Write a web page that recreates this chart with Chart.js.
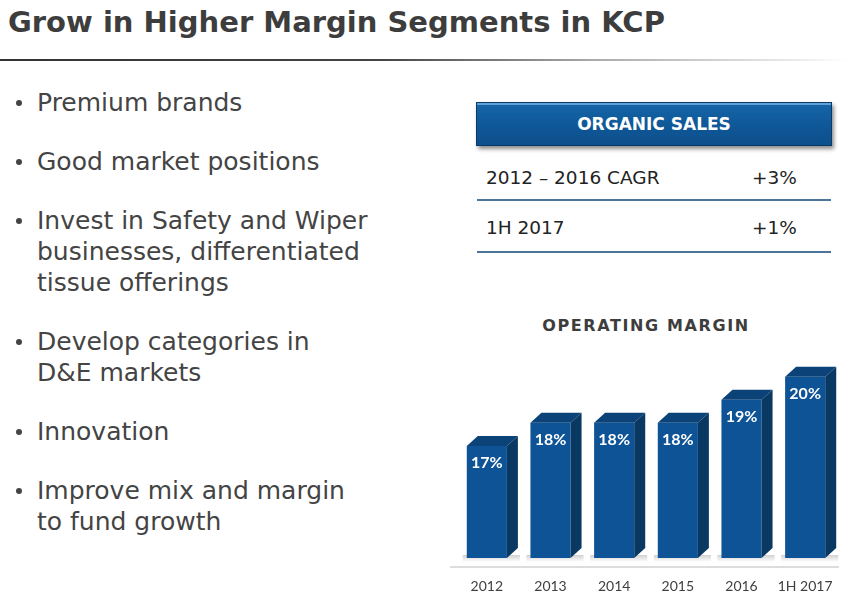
<!DOCTYPE html>
<html>
<head>
<meta charset="utf-8">
<script src="https://cdn.jsdelivr.net/npm/chart.js@4"></script>
<style>
  html, body { margin: 0; padding: 0; background: #fff; }
  body { width: 848px; height: 599px; position: relative; overflow: hidden; font-family: "DejaVu Sans", sans-serif; color: #404040; }
  #titulo { position: absolute; left: 8px; top: 8px; font-size: 29px; line-height: 29px; font-weight: bold; color: #3d3d3d; white-space: nowrap; }
  #linha { position: absolute; left: 0; top: 59px; width: 848px; height: 2px; background: linear-gradient(to right, #333 0%, #444 45%, #aaa 70%, #eee 95%, #fff 100%); }
  ul { position: absolute; left: 0; top: 87px; margin: 0; padding: 0 0 0 37px; width: 400px; list-style: none; font-size: 25px; line-height: 31px; color: #444; white-space: nowrap; }
  li { position: relative; margin-bottom: 28px; }
  li::before { content: ""; position: absolute; left: -21px; top: 13px; width: 6px; height: 6px; border-radius: 50%; background: #444; }
  #cabecalho { position: absolute; left: 476px; top: 102px; width: 354px; height: 42px; background: linear-gradient(#1466a8, #0f5696 60%, #0d4f8c); border: 1px solid #0a3a68; box-shadow: 2px 3px 4px rgba(0,0,0,0.45), inset 0 2px 0 #5fa0d8; color: #fff; font-weight: bold; font-size: 17px; text-align: center; line-height: 42px; }
  .linhaTab { position: absolute; left: 477px; width: 354px; height: 2px; background: #4c7599; }
  .celula { position: absolute; font-size: 18.5px; line-height: 20px; color: #222; }
  #tituloGrafico { position: absolute; left: 450px; width: 392px; top: 318px; text-align: center; font-weight: bold; font-size: 16px; line-height: 16px; letter-spacing: 1.6px; color: #3d3d3d; }
  #caixaGrafico { position: absolute; left: 450px; top: 340px; width: 398px; height: 259px; }
</style>
</head>
<body>
<div id="titulo">Grow in Higher Margin Segments in KCP</div>
<div id="linha"></div>

<ul>
  <li>Premium brands</li>
  <li>Good market positions</li>
  <li>Invest in Safety and Wiper<br>businesses, differentiated<br>tissue offerings</li>
  <li>Develop categories in<br>D&amp;E markets</li>
  <li>Innovation</li>
  <li>Improve mix and margin<br>to fund growth</li>
</ul>

<div id="cabecalho">ORGANIC SALES</div>
<div class="celula" style="left:486px; top:168px;">2012 – 2016 CAGR</div>
<div class="celula" style="left:752px; top:168px;">+3%</div>
<div class="linhaTab" style="top:199px;"></div>
<div class="celula" style="left:486px; top:218px;">1H 2017</div>
<div class="celula" style="left:752px; top:218px;">+1%</div>
<div class="linhaTab" style="top:251px;"></div>

<div id="tituloGrafico">OPERATING MARGIN</div>
<div id="caixaGrafico"><canvas id="cvs_margem"></canvas></div>

<script>
// dados do gráfico de margem operacional
const anos = ["2012", "2013", "2014", "2015", "2016", "1H 2017"];
const margens = [17, 18, 18, 18, 19, 20];
const rotulos = ["17%", "18%", "18%", "18%", "19%", "20%"];

const canvasMargem = document.getElementById("cvs_margem");

// profundidade do efeito 3D
const profX = 11;
const profY = -10;

// Plugin que desenha sombra, faces laterais/superiores e os rótulos
const barras3d = {
    id: "barras3d",
    beforeDatasetsDraw(chart) {
        const ctx = chart.ctx;
        const meta = chart.getDatasetMeta(0);
        const base = chart.chartArea.bottom;
        ctx.save();
        // linha de base cinza
        ctx.strokeStyle = "#d0d0d0";
        ctx.lineWidth = 1.5;
        ctx.beginPath();
        ctx.moveTo(0, base + 9);
        ctx.lineTo(chart.chartArea.right + 2, base + 9);
        ctx.stroke();
        // sombras suaves na base
        meta.data.forEach(bar => {
            const esq = bar.x - bar.width / 2;
            const g = ctx.createLinearGradient(0, base - 3, 0, base + 4);
            g.addColorStop(0, "rgba(0,0,0,0.18)");
            g.addColorStop(1, "rgba(0,0,0,0)");
            ctx.fillStyle = g;
            ctx.fillRect(esq - 4, base - 3, bar.width + profX + 6, 7);
        });
        ctx.restore();
    },
    afterDatasetsDraw(chart) {
        const ctx = chart.ctx;
        const meta = chart.getDatasetMeta(0);
        const base = chart.chartArea.bottom;
        ctx.save();
        meta.data.forEach((bar, i) => {
            const esq = bar.x - bar.width / 2;
            const dir = bar.x + bar.width / 2;
            const topo = bar.y;
            // face superior
            ctx.fillStyle = "#0b4378";
            ctx.beginPath();
            ctx.moveTo(esq, topo);
            ctx.lineTo(esq + profX, topo + profY);
            ctx.lineTo(dir + profX, topo + profY);
            ctx.lineTo(dir, topo);
            ctx.closePath();
            ctx.fill();
            // face lateral
            ctx.fillStyle = "#093863";
            ctx.beginPath();
            ctx.moveTo(dir, topo);
            ctx.lineTo(dir + profX, topo + profY);
            ctx.lineTo(dir + profX, base + profY);
            ctx.lineTo(dir, base);
            ctx.closePath();
            ctx.fill();
            // rótulo de valor
            ctx.fillStyle = "#ffffff";
            ctx.font = "bold 16px Lato, 'DejaVu Sans', sans-serif";
            ctx.textAlign = "center";
            ctx.textBaseline = "middle";
            ctx.fillText(rotulos[i], bar.x, topo + 17);
        });
        ctx.restore();
    }
};

new Chart(canvasMargem, {
    type: "bar",
    data: {
        labels: anos,
        datasets: [{
            data: margens,
            backgroundColor: "#0e5396",
            borderWidth: 0,
            barPercentage: 0.63,
            categoryPercentage: 1.0
        }]
    },
    options: {
        responsive: true,
        maintainAspectRatio: false,
        animation: false,
        layout: { padding: { left: 5, right: 11, top: 0, bottom: 0 } },
        plugins: {
            legend: { display: false },
            tooltip: { enabled: false }
        },
        scales: {
            x: {
                grid: { display: false },
                border: { display: false },
                ticks: {
                    color: "#404040",
                    font: { size: 14, family: "Lato, 'DejaVu Sans', sans-serif" },
                    padding: 12
                },
                afterFit(scale) { scale.height = 41; }
            },
            y: {
                display: false,
                min: 12.13,
                max: 21.6
            }
        }
    },
    plugins: [barras3d]
});
</script>
</body>
</html>
